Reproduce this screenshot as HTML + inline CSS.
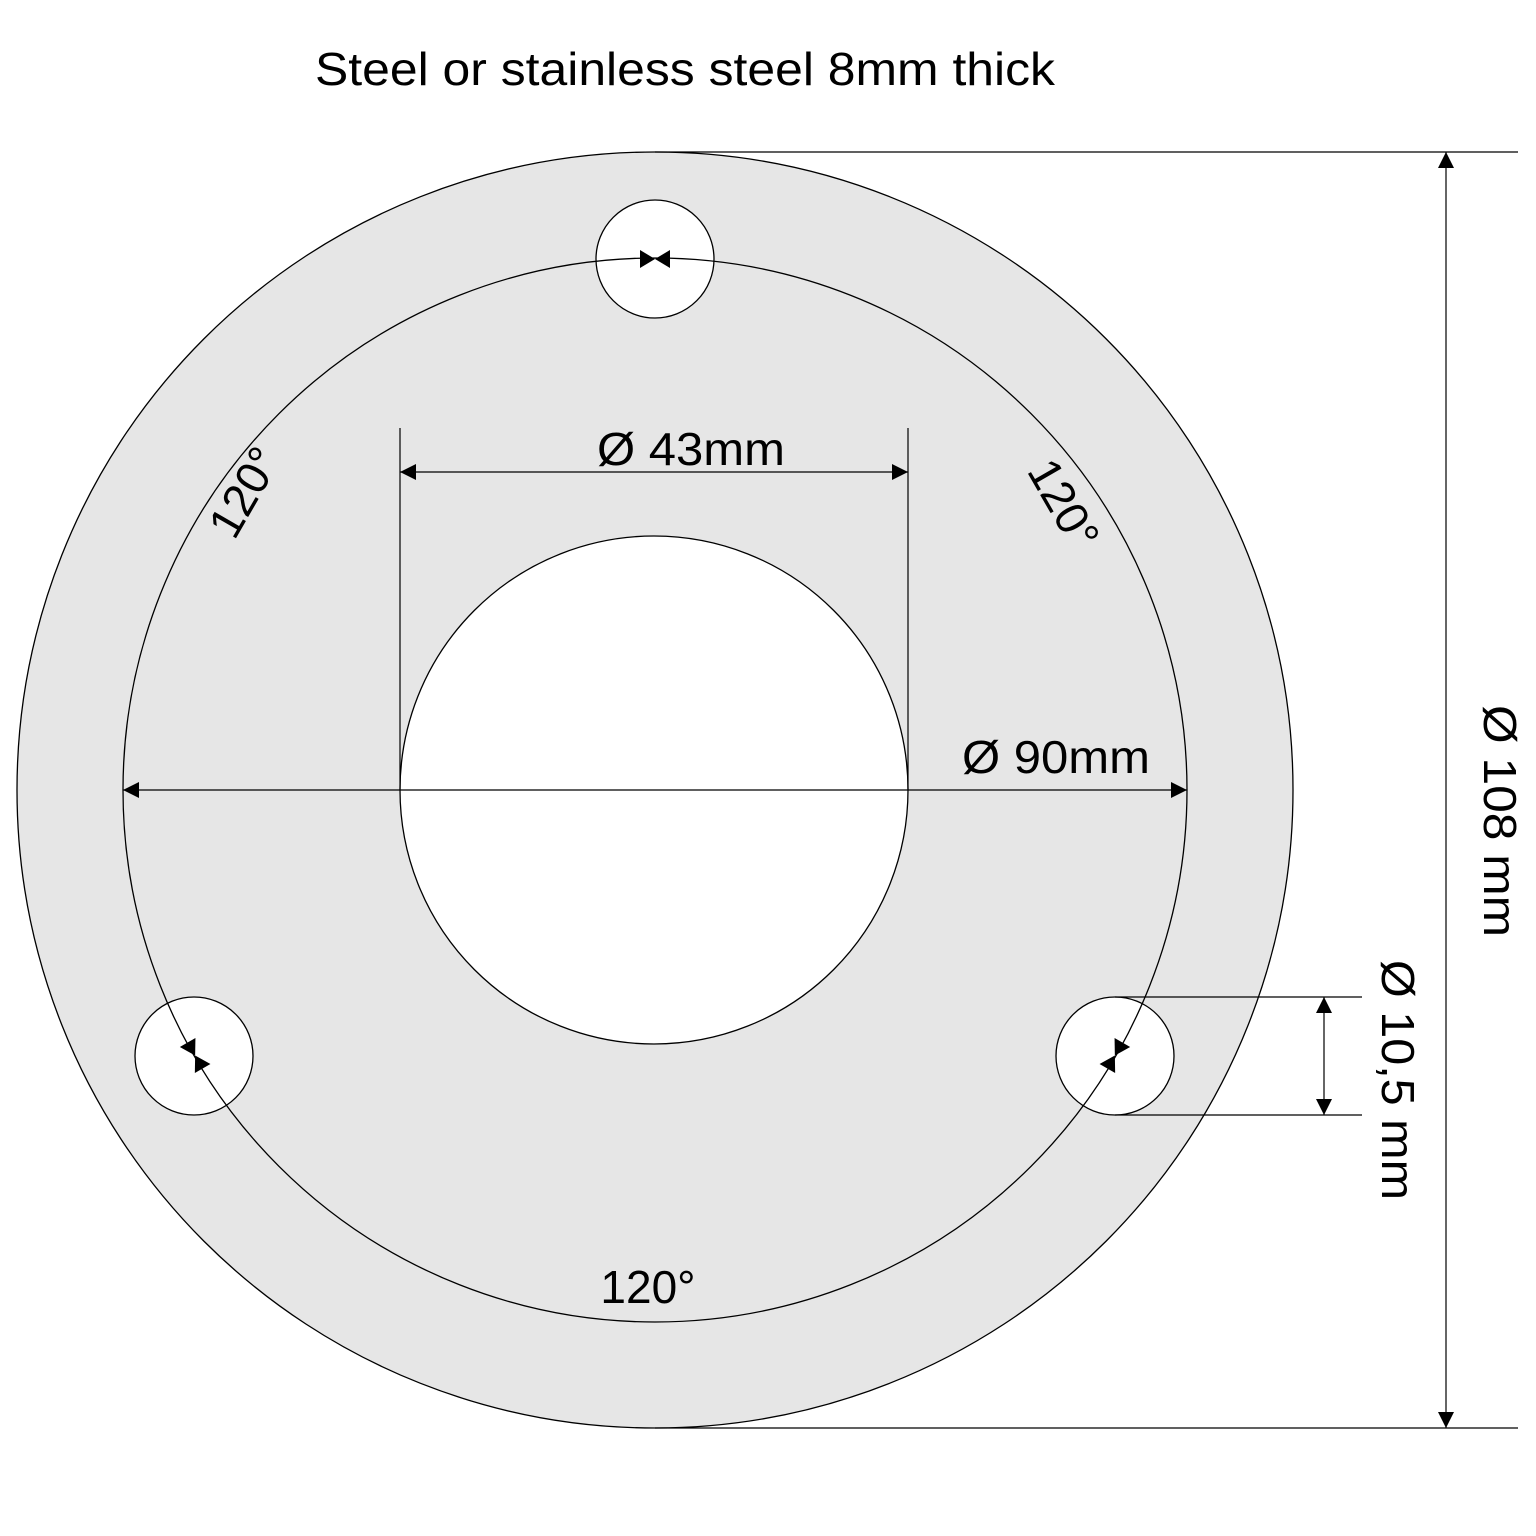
<!DOCTYPE html>
<html><head><meta charset="utf-8"><style>
html,body{margin:0;padding:0;background:#fff}
svg{display:block}
text{font-family:"Liberation Sans",Arial,sans-serif;fill:#000}
</style></head><body>
<svg width="1536" height="1536" viewBox="0 0 1536 1536" xmlns="http://www.w3.org/2000/svg">
<defs>
<g id="pair">
<polygon points="655,259 640,250 640,268" fill="#000"/>
<polygon points="655,259 670,250 670,268" fill="#000"/>
</g>
</defs>
<text x="315" y="85" font-size="46" textLength="740" lengthAdjust="spacingAndGlyphs">Steel or stainless steel 8mm thick</text>
<circle cx="655" cy="790" r="638" fill="#e6e6e6" stroke="#000" stroke-width="1.3"/>
<circle cx="654" cy="790" r="254" fill="#fff" stroke="#000" stroke-width="1.3"/>
<circle cx="655" cy="259" r="59" fill="#fff" stroke="#000" stroke-width="1.3"/>
<circle cx="194" cy="1056" r="59" fill="#fff" stroke="#000" stroke-width="1.3"/>
<circle cx="1115" cy="1056" r="59" fill="#fff" stroke="#000" stroke-width="1.3"/>
<circle cx="655" cy="790" r="532" fill="none" stroke="#000" stroke-width="1.3"/>
<use href="#pair"/>
<use href="#pair" transform="rotate(120 655 790)"/>
<use href="#pair" transform="rotate(-120 655 790)"/>
<g stroke="#000" stroke-width="1.2" fill="none">
<line x1="400" y1="428" x2="400" y2="790"/>
<line x1="908" y1="428" x2="908" y2="790"/>
<line x1="400" y1="472" x2="908" y2="472"/>
<line x1="123" y1="790" x2="1187" y2="790"/>
<line x1="655" y1="152" x2="1518" y2="152"/>
<line x1="655" y1="1428" x2="1518" y2="1428"/>
<line x1="1446" y1="152" x2="1446" y2="1428"/>
<line x1="1115" y1="997" x2="1362" y2="997"/>
<line x1="1115" y1="1115" x2="1362" y2="1115"/>
<line x1="1324" y1="997" x2="1324" y2="1115"/>
</g>
<g fill="#000">
<polygon points="400,472 416,464 416,480"/>
<polygon points="908,472 892,464 892,480"/>
<polygon points="123,790 139,782 139,798"/>
<polygon points="1187,790 1171,782 1171,798"/>
<polygon points="1446,152 1438,168 1454,168"/>
<polygon points="1446,1428 1438,1412 1454,1412"/>
<polygon points="1324,997 1316,1013 1332,1013"/>
<polygon points="1324,1115 1316,1099 1332,1099"/>
</g>
<text x="597" y="465" font-size="46" textLength="188" lengthAdjust="spacingAndGlyphs">Ø 43mm</text>
<text x="962" y="773" font-size="46" textLength="188" lengthAdjust="spacingAndGlyphs">Ø 90mm</text>
<text transform="translate(1484,705) rotate(90)" font-size="46" textLength="232" lengthAdjust="spacingAndGlyphs">Ø 108 mm</text>
<text transform="translate(1382,960) rotate(90)" font-size="46" textLength="240" lengthAdjust="spacingAndGlyphs">Ø 10,5 mm</text>
<text transform="translate(258,500) rotate(-60)" font-size="46" text-anchor="middle">120°</text>
<text transform="translate(1050,512) rotate(60)" font-size="46" text-anchor="middle">120°</text>
<text x="648" y="1303" font-size="46" text-anchor="middle">120°</text>
</svg>
</body></html>
